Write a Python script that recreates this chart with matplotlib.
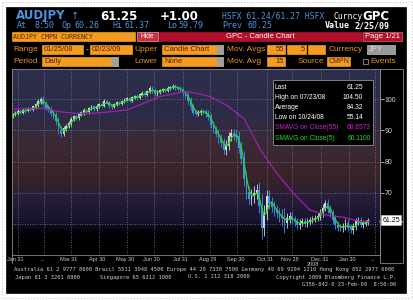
import numpy as np
import pandas as pd
import matplotlib
matplotlib.use("Agg")
import matplotlib.pyplot as plt
from matplotlib.patches import Rectangle
from matplotlib.colors import LinearSegmentedColormap
from matplotlib.transforms import ScaledTranslation

# AUDJPY daily candles, shown every 2nd trading day, 01/25/08 -> 02/23/09
closes = [
    95.0, 95.6, 96.1, 95.8, 96.6, 96.3, 97.0, 96.8, 97.6, 98.3,
    99.2, 100.1, 98.6, 97.4, 96.8, 95.5, 94.8, 93.0, 90.2, 89.0,
    90.6, 91.4, 92.3, 93.6, 94.4, 94.0, 95.1, 95.8, 96.4, 95.9,
    97.0, 97.6, 96.9, 97.8, 98.4, 98.1, 99.3, 98.9, 97.9, 97.7,
    98.4, 98.9, 98.6, 99.3, 99.8, 100.2, 99.7, 100.6, 101.0, 100.5,
    101.6, 102.0, 101.4, 102.5, 103.5, 102.8, 101.7, 102.3, 102.9, 103.1,
    102.8, 103.6, 103.9, 104.3, 103.8, 103.3, 103.0, 102.0, 101.2, 99.6,
    97.6, 95.8, 95.5, 95.7, 96.2, 96.0, 95.3, 94.4, 92.0, 90.2,
    89.1, 87.4, 86.2, 84.0, 85.2, 88.0, 89.1, 88.6, 88.0, 84.5,
    81.1, 74.5, 70.2, 68.3, 69.0, 69.9, 70.9, 66.0, 58.8, 63.5,
    68.8, 67.0, 65.6, 64.4, 63.5, 62.4, 61.9, 60.5, 61.8, 62.4,
    61.3, 60.8, 59.7, 60.4, 60.8, 60.2, 60.8, 61.2, 61.5, 61.9,
    62.5, 63.5, 65.2, 66.7, 65.0, 63.5, 61.5, 59.7, 59.0, 58.7,
    59.2, 60.3, 59.0, 58.1, 59.2, 60.8, 61.3, 59.9, 60.2, 60.5,
    61.25,
]
first_open = 94.6
spread = [
    0.6, 0.5, 0.7, 0.5, 0.6, 0.8, 0.5, 0.6, 0.7, 0.6, 0.8, 0.6, 0.9, 0.7, 0.8, 0.9, 1.0, 1.2, 1.3, 1.1,
    0.9, 0.8, 0.7, 0.8, 0.6, 0.7, 0.6, 0.5, 0.7, 0.6, 0.6, 0.5, 0.7, 0.6, 0.5, 0.6, 0.7, 0.5, 0.6, 0.7,
    0.5, 0.6, 0.5, 0.4, 0.6, 0.5, 0.6, 0.5, 0.5, 0.6, 0.5, 0.6, 0.7, 0.5, 0.6, 0.8, 0.7, 0.6, 0.5, 0.6,
    0.5, 0.6, 0.5, 0.6, 0.7, 0.6, 0.8, 0.9, 0.8, 1.0, 1.1, 0.9, 0.8, 0.9, 0.7, 0.8, 1.0, 1.2, 1.3, 1.1,
    1.2, 1.4, 1.6, 1.5, 1.8, 1.4, 1.3, 1.5, 1.6, 1.8, 2.0, 2.4, 2.2, 1.9, 2.1, 2.3, 2.0, 2.5, 3.7, 2.6,
    2.2, 2.0, 1.8, 1.9, 1.6, 1.8, 2.4, 3.4, 1.7, 1.5, 1.4, 1.3, 1.2, 1.3, 1.1, 1.0, 1.2, 1.1, 1.0, 0.9,
    1.0, 1.2, 1.1, 1.0, 1.3, 1.2, 1.1, 1.3, 1.2, 1.0, 1.1, 1.2, 1.3, 1.1, 1.2, 1.0, 1.1, 0.9, 1.0, 0.8,
    0.7,
]

# 55-day simple moving average (trading-day index, value)
ma55_idx = [0, 24, 37, 50, 63, 77, 90, 103, 116, 129, 137, 145, 155, 168, 182, 195, 208, 221, 234, 247, 260, 274, 281]
ma55_val = [96.8, 97.1, 96.0, 95.5, 95.5, 96.0, 96.6, 98.7, 100.9, 101.9, 102.5, 101.9, 100.9, 98.2, 93.9,
            83.8, 76.3, 69.9, 64.5, 62.9, 62.2, 60.8, 60.86]

month_ends = ["2008-01-31", "2008-02-29", "2008-03-31", "2008-04-30", "2008-05-30", "2008-06-30",
              "2008-07-31", "2008-08-29", "2008-09-30", "2008-10-31", "2008-11-28", "2008-12-31",
              "2009-01-30", "2009-02-27"]
month_lbl = ["Jan 31", "...", "Mar 31", "Apr 30", "May 30", "Jun 30", "Jul 31", "Aug 29",
             "Sep 30", "Oct 31", "Nov 28", "Dec 31", "Jan 30", "..."]

info_lbl = ["Last", "High on 07/23/08", "Average", "Low on 10/24/08",
            "SMAVG on Close(55)", "SMAVG on Close(5)"]
info_val = ["61.25", "104.50", "84.32", "55.14", "60.8573", "60.1100"]

BLUE = "#4a94e0"
ORANGE = "#f39c1e"
OTXT = "#e8961e"
DARK = "#5a2000"
RED = "#b0102c"
MONO = "DejaVu Sans Mono"
SANS = "Liberation Sans"

fig = plt.figure(figsize=(4.14, 3.0), dpi=100)
fig.patch.set_facecolor("white")

bg = fig.add_axes([0, 0, 1, 1])
bg.set_xlim(0, 414)
bg.set_ylim(300, 0)
bg.axis("off")


def box(x0, y0, x1, y1, fc, ec=None, lw=0.5, a=bg, **kw):
    a.add_patch(Rectangle((x0, y0), x1 - x0, y1 - y0, facecolor=fc,
                          edgecolor=ec if ec else fc, linewidth=lw, **kw))


def txt(x, y, s, color, size, a=bg, family=SANS, **kw):
    a.text(x, y, s, color=color, fontsize=size, va="center", family=family, **kw)


box(2, 2, 412, 298, "none", ec="#c8c8c8", lw=0.8, linestyle=":")
box(6, 7, 406, 293, "black")

# header
txt(16, 16, "AUDJPY", BLUE, 8.5, family="DejaVu Sans", weight="bold")
txt(71, 16, "\u2191", BLUE, 7, family="DejaVu Sans")
txt(100, 16, "61.25", "white", 8.5, family="DejaVu Sans", weight="bold")
txt(160, 16, "+1.00", "white", 8.5, family="DejaVu Sans", weight="bold")
txt(222, 16, "HSFX 61.24/61.27 HSFX", BLUE, 5.8, family=MONO)
txt(334, 16.5, "Curncy", "white", 5.8, family=MONO)
txt(362, 16, "GPC", "white", 8.5, family="DejaVu Sans", weight="bold")
for s, x in [("At", 17), ("8:50", 35), ("Op", 62), ("60.26", 75), ("Hi", 113), ("61.37", 125),
             ("Lo", 167), ("59.79", 178), ("Prev", 222), ("60.25", 248)]:
    txt(x, 26, s, BLUE, 6, family=MONO)
txt(325, 26, "Value", "white", 6.0, family=MONO, weight="bold")
txt(355, 26, "2/25/09", "white", 6.0, family=MONO, weight="bold")

# toolbar rows
box(12, 32, 135, 41, ORANGE)
txt(13, 36.8, "AUDJPY CMPN CURRENCY", DARK, 4.8, family=MONO)
box(137, 32, 158, 41, "#c8303c", ec="#f0a0a8")
txt(147.5, 36.8, "Hide", "white", 4.8, ha="center")
box(159, 32, 362, 41, RED)
txt(260, 36.8, "GPC - Candle Chart", "white", 5.5, ha="center")
box(363, 32, 402, 41, RED, ec="#e06070")
txt(382.5, 36.8, "Page 1/21", "white", 5.5, ha="center")

r4, r5 = 49.5, 61.5
txt(13, r4, "Range", OTXT, 6)
box(42, 45, 83, 54, ORANGE)
txt(44, r4, "01/25/08", DARK, 5.5)
txt(86, r4, "-", "white", 6)
box(90, 45, 132, 54, ORANGE)
txt(92, r4, "02/23/09", DARK, 5.5)
txt(134, r4, "Upper", OTXT, 6)
box(162, 45, 223, 54, ORANGE)
box(217, 45, 223, 54, "#a0a0a0")
txt(164, r4, "Candle Chart", DARK, 5.5)
txt(227, r4, "Mov. Avgs", OTXT, 6)
box(267, 45, 285, 54, ORANGE)
txt(284, r4, "55", DARK, 5.5, ha="right")
box(287, 45, 306, 54, ORANGE)
txt(305, r4, "5", DARK, 5.5, ha="right")
box(308, 45, 325, 54, ORANGE)
txt(329, r4, "Currency", OTXT, 6)
box(367, 45, 395, 54, "#9a9a9a", ec="#c0c0c0")
txt(369, r4, "JPY", "#dcdcdc", 5.5)

txt(13, r5, "Period", OTXT, 6)
box(42, 57, 118, 66, ORANGE)
box(111, 57, 118, 66, "#a0a0a0")
txt(44, r5, "Daily", DARK, 5.5)
txt(134, r5, "Lower", OTXT, 6)
box(162, 57, 223, 66, ORANGE)
box(217, 57, 223, 66, "#a0a0a0")
txt(164, r5, "None", DARK, 5.5)
txt(227, r5, "Mov. Avg", OTXT, 6)
box(267, 57, 285, 66, ORANGE)
txt(284, r5, "15", DARK, 5.5, ha="right")
txt(298, r5, "Source", OTXT, 6)
box(327, 57, 350, 66, ORANGE)
txt(329, r5, "CMPN", DARK, 5.0)
box(363, 59, 368, 64, "none", ec="#b0b0b0")
txt(370, r5, "Events", OTXT, 6)

# right value column frame and x label band edges
box(380, 69, 403, 263, "black", ec="#8a8a8a", lw=0.6)
bg.plot([12, 12], [255, 263], color="#8a8a8a", lw=0.6)
txt(313, 264.5, "2008", "#c8c8c8", 4, ha="center")

# footer
txt(14, 270, "Australia 61 2 9777 8600 Brazil 5511 3048 4500 Europe 44 20 7330 7500 "
    "Germany 49 69 9204 1210 Hong Kong 852 2977 6000", "#d0d0d0", 3.9, family=MONO)
txt(15, 277, "Japan 81 3 3201 8900", "#d0d0d0", 3.9, family=MONO)
txt(100, 277, "Singapore 65 6212 1000", "#d0d0d0", 3.9, family=MONO)
txt(188, 277, "U.S. 1 212 318 2000", "#d0d0d0", 3.9, family=MONO)
txt(396, 277, "Copyright 2009 Bloomberg Finance L.P.", "#d0d0d0", 3.9, family=MONO, ha="right")
txt(396, 284, "G356-842-0 23-Feb-09  8:50:06", "#d0d0d0", 3.9, family=MONO, ha="right")

# ---- price chart ----
ax = fig.add_axes([12 / 414, 1 - 255 / 300, 368 / 414, 186 / 300], zorder=2)
x0, x1, y0, y1 = -0.55, 289.2, 50.1, 109.7
ax.set_xlim(x0, x1)
ax.set_ylim(y0, y1)

stops = [(0.0, "#2c2f4c"), (0.25, "#2d2b46"), (0.38, "#3a2a38"), (0.57, "#3a2428"),
         (0.71, "#261c38"), (0.82, "#16132c"), (0.88, "#030306"), (1.0, "#000000")]
cmap = LinearSegmentedColormap.from_list("bbg", stops)
ax.imshow(np.linspace(0, 1, 256).reshape(-1, 1), cmap=cmap, aspect="auto",
          extent=(x0, x1, y0, y1), origin="upper", zorder=0)

c = np.array(closes)
o = np.array([first_open] + closes[:-1])
sp = np.array(spread)
xs = np.arange(0, 2 * len(closes), 2)
hi = np.maximum(o, c) + sp
lo = np.minimum(o, c) - sp
cols = np.where(c >= o, "#d4d4dc", "#3c90ee")
ax.vlines(xs, lo, hi, colors=cols, linewidth=0.6, zorder=3)
ax.bar(xs, np.abs(c - o) + 0.2, bottom=np.minimum(o, c) - 0.1, width=1.3,
       color=cols, linewidth=0, zorder=3)

ma5 = pd.Series(closes).rolling(3, min_periods=1).mean()
ax.plot(xs, ma5, color="#22dd22", lw=0.9, zorder=4)
ax.plot(ma55_idx, ma55_val, color="#a020b0", lw=0.9, zorder=4)

axis_dates = pd.bdate_range("2008-01-25", "2009-02-27")
ticks = axis_dates.get_indexer(pd.to_datetime(month_ends))
ax.set_xticks(ticks)
ax.set_xticklabels(month_lbl, fontsize=4, color="#c8c8c8", family=SANS)
ax.tick_params(axis="x", length=0, pad=1.5)
for lab in ax.get_xticklabels():
    lab.set_transform(lab.get_transform() + ScaledTranslation(-2 / 100, 0, fig.dpi_scale_trans))

ax.yaxis.tick_right()
ax.set_yticks([60, 70, 80, 90, 100])
ax.set_yticklabels(["", "70", "80", "90", "100"], family=SANS)
ax.tick_params(axis="y", length=3, width=0.6, color="#c0c0c0", labelsize=5,
               labelcolor="#d8d8d8", pad=0.5)
ax.grid(True, color="#7a80a0", linestyle=(0, (1, 2)), linewidth=0.6, zorder=1)
ax.set_axisbelow(True)
for s in ax.spines.values():
    s.set_color("#8a8a8a")
    s.set_linewidth(0.6)

ytr = ax.get_yaxis_transform()
ax.plot([1.0, 1.06], [ma55_val[-1]] * 2, transform=ytr, color="#a020b0", lw=0.9, clip_on=False)
ax.plot([1.0, 1.06], [ma5.iloc[-1]] * 2, transform=ytr, color="#22dd22", lw=1.2, clip_on=False)
ax.text(1.006, closes[-1], "61.25", transform=ytr, fontsize=5, color="black", va="center",
        family=SANS, clip_on=False, zorder=6,
        bbox=dict(boxstyle="square,pad=0.2", fc="white", ec="#c0c0c0", lw=0.5))

# info box
over = fig.add_axes([0, 0, 1, 1], zorder=3)
over.set_xlim(0, 414)
over.set_ylim(300, 0)
over.axis("off")
box(273, 80, 373, 145, "black", ec="#909090", lw=0.6, a=over)
info_col = ["white", "white", "white", "white", "#d020d0", "#22dd22"]
info_x = [363, 363, 363, 363, 371, 371]
for i, (l, v) in enumerate(zip(info_lbl, info_val)):
    y = 87.5 + 10.1 * i
    txt(275, y, l, info_col[i], 4.8, a=over)
    txt(info_x[i], y, v, info_col[i], 4.8, a=over, ha="right")

fig.savefig("out.png", dpi=100, facecolor=fig.get_facecolor())
